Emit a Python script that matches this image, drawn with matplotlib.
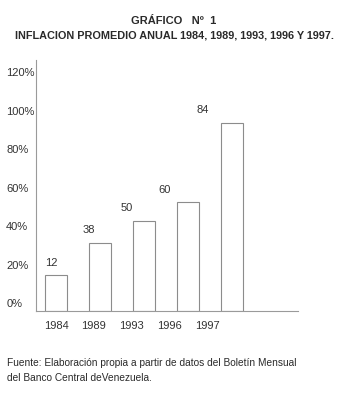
"""Inflación promedio anual, Venezuela (gráfico Nº 1)."""

import matplotlib.pyplot as plt
import matplotlib.transforms as mtransforms
import numpy as np

plt.rcParams.update({
    "font.family": ["Liberation Sans", "DejaVu Sans"],
    "text.color": "#2a2a2a",
    "axes.edgecolor": "#9a9a9a",
    "axes.spines.top": False,
    "axes.spines.right": False,
})

years = ["1984", "1989", "1993", "1996", "1997"]
bar_heights = [18.7, 35.5, 46.8, 56.5, 97.7]     # as drawn, in % of the axis
value_labels = ["12", "38", "50", "60", "84"]     # numbers printed above bars
y_ticks = [0, 20, 40, 60, 80, 100, 120]

fig = plt.figure(figsize=(3.61, 3.95), dpi=100)
ax = fig.add_axes([36 / 361, 84 / 395, 262 / 361, 251 / 395])

x = np.arange(len(years))
bar_x = x * 1.165   # bars drift right of the year labels in the original
ax.bar(bar_x, bar_heights, width=0.56, color="white",
       edgecolor="#8c8c8c", linewidth=0.8)

for i, (h, lab) in enumerate(zip(bar_heights, value_labels)):
    ax.annotate(lab, (x[i] - 0.12, h), xytext=(0, 9), textcoords="offset points",
                ha="center", va="center", fontsize=8, color="#333333")

ax.set_xlim(-0.53, 6.41)
ax.set_ylim(0, 130.4)
ax.set_xticks(x, years)
ax.set_yticks(y_ticks, [f"{t}%" for t in y_ticks])
ax.tick_params(axis="both", length=0, labelsize=8, labelcolor="#333333")
ax.tick_params(axis="x", pad=7)
shift = mtransforms.ScaledTranslation(-25 / 100, 8 / 100, fig.dpi_scale_trans)
for lab in ax.get_yticklabels():
    lab.set_horizontalalignment("left")
    lab.set_transform(lab.get_transform() + shift)
for s in ("left", "bottom"):
    ax.spines[s].set_linewidth(0.8)

fig.text(174 / 361, 1 - 20.5 / 395, "GRÁFICO   Nº  1", ha="center", va="center",
         fontsize=8, fontweight="bold")
fig.text(174 / 361, 1 - 35 / 395, "INFLACION PROMEDIO ANUAL 1984, 1989, 1993, 1996 Y 1997.",
         ha="center", va="center", fontsize=7.8, fontweight="bold")
fig.text(7 / 361, 1 - 363 / 395,
         "Fuente: Elaboración propia a partir de datos del Boletín Mensual",
         ha="left", va="center", fontsize=7.3)
fig.text(7 / 361, 1 - 378 / 395, "del Banco Central deVenezuela.",
         ha="left", va="center", fontsize=7.3)

fig.savefig("out.png", dpi=100, facecolor="white")
